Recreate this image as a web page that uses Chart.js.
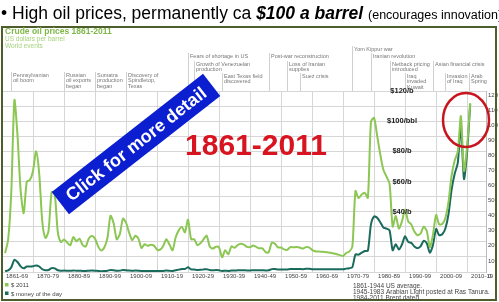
<!DOCTYPE html>
<html>
<head>
<meta charset="utf-8">
<script src="https://cdn.jsdelivr.net/npm/chart.js@4.4.0/dist/chart.umd.min.js"></script>
<style>
  html, body { margin: 0; padding: 0; background: #fff; overflow: hidden; }
  canvas { display: block; }
</style>
</head>
<body>
<canvas id="oilChart" width="499" height="302"></canvas>
<script>
/* --------------- Data --------------------- */
const years = [
  1861, 1862, 1863, 1864, 1865, 1866, 1867, 1868, 1869, 1870,
  1871, 1872, 1873, 1874, 1875, 1876, 1877, 1878, 1879, 1880,
  1881, 1882, 1883, 1884, 1885, 1886, 1887, 1888, 1889, 1890,
  1891, 1892, 1893, 1894, 1895, 1896, 1897, 1898, 1899, 1900,
  1901, 1902, 1903, 1904, 1905, 1906, 1907, 1908, 1909, 1910,
  1911, 1912, 1913, 1914, 1915, 1916, 1917, 1918, 1919, 1920,
  1921, 1922, 1923, 1924, 1925, 1926, 1927, 1928, 1929, 1930,
  1931, 1932, 1933, 1934, 1935, 1936, 1937, 1938, 1939, 1940,
  1941, 1942, 1943, 1944, 1945, 1946, 1947, 1948, 1949, 1950,
  1951, 1952, 1953, 1954, 1955, 1956, 1957, 1958, 1959, 1960,
  1961, 1962, 1963, 1964, 1965, 1966, 1967, 1968, 1969, 1970,
  1971, 1972, 1973, 1974, 1975, 1976, 1977, 1978, 1979, 1980,
  1981, 1982, 1983, 1984, 1985, 1986, 1987, 1988, 1989, 1990,
  1991, 1992, 1993, 1994, 1995, 1996, 1997, 1998, 1999, 2000,
  2001, 2002, 2003, 2004, 2005, 2006, 2007, 2008, 2009, 2010,
  2011
];

// $ 2011 (light green)
const price2011 = [
  12.5, 21.7, 53.2, 114, 90.5, 54.2, 39.0, 60.0, 61.0, 67.0,
  80.0, 65.3, 33.3, 22.6, 27.1, 53.0, 51.6, 26.4, 19.9, 21.6,
  19.5, 17.7, 23.1, 20.3, 22.1, 17.9, 16.9, 22.2, 23.8, 22.0,
  17.0, 14.2, 16.2, 22.5, 37.3, 32.4, 21.7, 25.0, 35.4, 32.7,
  26.1, 21.1, 24.0, 22.1, 15.9, 18.4, 17.4, 18.0, 17.5, 14.8,
  14.8, 17.3, 21.7, 18.3, 14.4, 22.9, 27.6, 29.9, 26.3, 34.7,
  21.7, 21.7, 17.8, 19.0, 21.7, 24.1, 16.9, 15.5, 16.8, 16.3,
  9.8, 14.5, 11.8, 17.0, 16.1, 17.8, 18.7, 18.2, 16.7, 16.5,
  17.6, 16.6, 15.7, 15.6, 13.2, 13.0, 19.4, 18.8, 16.3, 16.2,
  15.0, 14.7, 16.5, 16.4, 16.5, 16.2, 15.5, 16.5, 16.3, 14.7,
  13.8, 13.6, 13.4, 13.3, 13.1, 12.7, 12.3, 11.8, 11.2, 10.6,
  12.6, 13.5, 16.9, 53.7, 49.0, 51.4, 52.5, 49.2, 99.5, 102.2,
  90.3, 78.0, 67.8, 63.3, 58.5, 30.1, 37.1, 28.8, 33.6, 41.5,
  33.6, 31.5, 26.8, 24.4, 25.5, 30.1, 27.2, 16.5, 24.7, 37.8,
  31.6, 31.8, 35.8, 46.3, 63.8, 73.9, 79.8, 103.3, 67.0, 83.3,
  112.0
];

// $ money of the day (dark teal)
const priceMoneyOfDay = [
  0.49, 1.05, 3.15, 8.06, 6.59, 3.74, 2.41, 3.63, 3.64, 3.86,
  4.34, 3.64, 1.83, 1.17, 1.35, 2.56, 2.42, 1.19, 0.86, 0.95,
  0.86, 0.78, 1.00, 0.84, 0.88, 0.71, 0.67, 0.88, 0.94, 0.87,
  0.67, 0.56, 0.64, 0.84, 1.36, 1.18, 0.79, 0.91, 1.29, 1.19,
  0.96, 0.80, 0.94, 0.86, 0.62, 0.73, 0.72, 0.72, 0.70, 0.61,
  0.61, 0.74, 0.95, 0.81, 0.64, 1.10, 1.56, 1.98, 2.01, 3.07,
  1.73, 1.61, 1.34, 1.43, 1.68, 1.88, 1.30, 1.17, 1.27, 1.19,
  0.65, 0.87, 0.67, 1.00, 0.97, 1.09, 1.18, 1.13, 1.02, 1.02,
  1.14, 1.19, 1.20, 1.21, 1.05, 1.12, 1.90, 1.99, 1.71, 1.71,
  1.71, 1.71, 1.93, 1.93, 1.93, 1.93, 1.90, 2.08, 2.08, 1.90,
  1.80, 1.80, 1.80, 1.80, 1.80, 1.80, 1.80, 1.80, 1.80, 1.80,
  2.24, 2.48, 3.29, 11.58, 11.53, 12.80, 13.92, 14.02, 31.61, 36.83,
  35.93, 32.97, 29.55, 28.78, 27.56, 14.43, 18.44, 14.92, 18.23, 23.73,
  20.00, 19.32, 16.97, 15.82, 17.02, 20.67, 19.09, 12.72, 17.97, 28.50,
  24.44, 25.02, 28.83, 38.27, 54.52, 65.14, 72.39, 97.26, 61.67, 79.50,
  111.26
];

const decadeStarts = [1860, 1870, 1880, 1890, 1900, 1910, 1920, 1930, 1940, 1950, 1960, 1970, 1980, 1990, 2000, 2010];
const decadeLabels = ["1861-69", "1870-79", "1880-89", "1890-99", "1900-09", "1910-19", "1920-29", "1930-39",
  "1940-49", "1950-59", "1960-69", "1970-79", "1980-89", "1990-99", "2000-09", "2010-19"];
const yTicks = [0, 10, 20, 30, 40, 50, 60, 70, 80, 90, 100, 110, 120];

const priceMarks = [
  { value: 120, text: "$120/b" },
  { value: 100, text: "$100/bbl" },
  { value: 80, text: "$80/b" },
  { value: 60, text: "$60/b" },
  { value: 40, text: "$40/b" },
];

const events = [
  { year: 1863, text: ["Pennsylvanian", "oil boom"] },
  { year: 1880, text: ["Russian", "oil exports", "began"] },
  { year: 1890, text: ["Sumatra", "production", "began"] },
  { year: 1900, text: ["Discovery of", "Spindletop,", "Texas"] },
  { year: 1920, text: ["Fears of shortage in US"] },
  { year: 1922, text: ["Growth of Venezuelan", "production"] },
  { year: 1931, text: ["East Texas field", "discovered"] },
  { year: 1946, text: ["Post-war reconstruction"] },
  { year: 1952, text: ["Loss of Iranian", "supplies"] },
  { year: 1956, text: ["Suez crisis"] },
  { year: 1973, text: ["Yom Kippur war"] },
  { year: 1979, text: ["Iranian revolution"] },
  { year: 1985, text: ["Netback pricing", "introduced"] },
  { year: 1999, text: ["Asian financial crisis"] },
  { year: 1990, text: ["Iraq", "invaded", "Kuwait"] },
  { year: 2003, text: ["Invasion", "of Iraq"] },
  { year: 2010.5, text: ["Arab", "Spring"] },
];

const notes = ["1861-1944 US average.", "1945-1983 Arabian Light posted at Ras Tanura.", "1984-2011 Brent dated."];

/* --------------- Drawing extras --------------------- */
const FONT = "'Liberation Sans', Arial, sans-serif";
Chart.defaults.font.family = FONT;

// top of each event's text (same order as events)
const eventRowTops = [73, 73, 73, 73, 54, 62, 74, 54, 62, 74, 47, 54, 62, 62, 74, 74, 74];

const decorations = {
  id: "decorations",
  beforeDraw(chart) {
    const c = chart.ctx;
    c.save();
    c.fillStyle = "#fff";
    c.fillRect(0, 0, chart.width, chart.height);
    c.restore();
  },
  afterDraw(chart) {
    const c = chart.ctx;
    const xs = chart.scales.x, ys = chart.scales.y;
    const area = chart.chartArea;
    c.save();

    // frame
    c.strokeStyle = "#4e5d2c";
    c.lineWidth = 2;
    c.strokeRect(2, 27, 494, 273);

    // header
    c.textBaseline = "alphabetic";
    c.textAlign = "left";
    c.fillStyle = "#7fb84a";
    c.font = "bold 8.5px " + FONT;
    c.fillText("Crude oil prices 1861-2011", 5, 34);
    c.fillStyle = "#a6d27e";
    c.font = "6.5px " + FONT;
    c.fillText("US dollars per barrel", 5, 41);
    c.fillText("World events", 5, 48);

    // events
    c.font = "5.5px " + FONT;
    c.textBaseline = "top";
    events.forEach((ev, i) => {
      const x = Math.round(xs.getPixelForValue(ev.year)) + 0.5;
      const top = eventRowTops[i];
      c.strokeStyle = "#c4c4c4";
      c.lineWidth = 0.8;
      c.beginPath();
      c.moveTo(x, top - 1);
      c.lineTo(x, area.top);
      c.stroke();
      c.fillStyle = "#777";
      ev.text.forEach((t, j) => c.fillText(t, x + 1.5, top + j * 5.2));
    });

    // price marks
    c.fillStyle = "#222";
    c.font = "bold 7.5px " + FONT;
    c.textAlign = "center";
    c.textBaseline = "middle";
    priceMarks.forEach(m => c.fillText(m.text, xs.getPixelForValue(1989), ys.getPixelForValue(m.value)));

    // legend
    c.textAlign = "left";
    c.textBaseline = "alphabetic";
    c.font = "6px " + FONT;
    chart.data.datasets.forEach((ds, i) => {
      const y = 283 + i * 8.5;
      c.fillStyle = ds.borderColor;
      c.fillRect(5, y, 3.5, 3.5);
      c.fillStyle = "#444";
      c.fillText(ds.label, 11, y + 4);
    });

    // notes
    c.font = "6.5px " + FONT;
    notes.forEach((t, i) => c.fillText(t, 353, 287.5 + i * 6));

    // slide title
    c.fillStyle = "#000";
    c.font = "17.5px " + FONT;
    let tx = 1;
    const part1 = "\u2022 High oil prices, permanently ca ";
    c.fillText(part1, tx, 19);
    tx += c.measureText(part1).width;
    c.font = "italic bold 17.5px " + FONT;
    c.fillText("$100 a barrel", tx, 19);
    tx += c.measureText("$100 a barrel ").width;
    c.font = "12.5px " + FONT;
    c.fillText("(encourages innovation)", tx, 19);

    // red years
    c.fillStyle = "#d7141f";
    c.font = "bold 30px " + FONT;
    c.textAlign = "center";
    c.fillText("1861-2011", 256, 155);

    // blue banner
    c.translate(136, 144);
    c.rotate(-38 * Math.PI / 180);
    c.fillStyle = "#0b1ed0";
    c.fillRect(-96, -14, 192, 28);
    c.fillStyle = "#fff";
    c.font = "bold 18px " + FONT;
    c.textBaseline = "middle";
    c.fillText("Click for more detail", 0, 1);
    c.setTransform(1, 0, 0, 1, 0, 0);

    // red circle
    c.strokeStyle = "#c8141e";
    c.lineWidth = 2.5;
    c.beginPath();
    c.ellipse(466, 120, 23, 27, 0, 0, Math.PI * 2);
    c.stroke();

    c.restore();
  }
};

/* --------------- Chart --------------------- */
const toPoints = arr => years.map((y, i) => ({ x: y, y: arr[i] }));

const oilChart = new Chart(document.getElementById("oilChart"), {
  type: "line",
  data: {
    datasets: [
      {
        label: "$ 2011",
        data: toPoints(price2011),
        borderColor: "#8cc653",
        borderWidth: 2,
        pointRadius: 0,
        tension: 0.25,
      },
      {
        label: "$ money of the day",
        data: toPoints(priceMoneyOfDay),
        borderColor: "#1b6b5c",
        borderWidth: 2,
        pointRadius: 0,
        tension: 0.25,
      },
    ],
  },
  options: {
    responsive: false,
    animation: false,
    layout: { padding: { left: 2, top: 91, right: 1, bottom: 20 } },
    plugins: {
      legend: { display: false },
      tooltip: { enabled: false },
    },
    scales: {
      x: {
        type: "linear",
        min: 1860,
        max: 2016.1,
        afterBuildTicks: axis => { axis.ticks = decadeStarts.map(v => ({ value: v })); },
        afterFit: axis => {
          axis.height = 10;
          axis.paddingLeft = 0;
          axis.paddingRight = 0;
        },
        grid: { color: "#d6d6d6", lineWidth: 1, drawTicks: false },
        border: { display: false },
        ticks: {
          font: { size: 6 },
          color: "#444",
          padding: 1,
          labelOffset: 15,
          maxRotation: 0,
          autoSkip: false,
          callback: (v, i) => decadeLabels[i],
        },
      },
      y: {
        position: "right",
        min: 0,
        max: 120,
        afterBuildTicks: axis => { axis.ticks = yTicks.map(v => ({ value: v })); },
        afterFit: axis => {
          axis.width = 12;
          axis.paddingTop = 0;
          axis.paddingBottom = 0;
        },
        grid: { color: "#d6d6d6", lineWidth: 1, drawTicks: false },
        border: { display: true, color: "#bbb" },
        ticks: {
          font: { size: 6 },
          color: "#444",
          padding: 2,
          labelOffset: 4,
        },
      },
    },
  },
  plugins: [decorations],
});
</script>
</body>
</html>
